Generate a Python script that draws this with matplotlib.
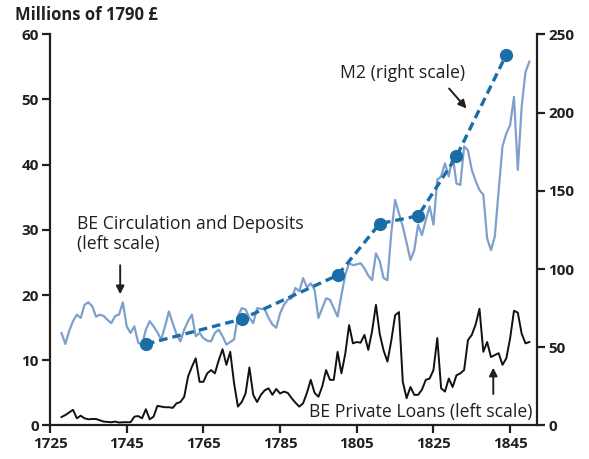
import matplotlib
matplotlib.use("Agg")
import matplotlib.pyplot as plt

plt.rcParams["font.family"] = ["Open Sans", "DejaVu Sans"]

# BE Circulation and Deposits, millions of 1790 pounds (left scale)
circ_years = list(range(1728, 1851))
circ_values = [
    14.2, 12.5, 14.5, 16.0, 17.0, 16.5, 18.5, 18.9, 18.3, 16.7,
    17.0, 16.8, 16.2, 15.7, 16.8, 17.0, 18.9, 15.2, 14.2, 15.2,
    12.7, 12.4, 14.7, 16.0, 15.2, 14.3, 13.2, 15.2, 17.5, 15.7,
    14.0, 12.9, 14.7, 16.0, 17.0, 13.7, 14.2, 13.4, 13.0, 12.9,
    14.2, 14.7, 13.7, 12.4, 12.8, 13.2, 16.7, 18.0, 17.8, 16.5,
    15.7, 18.0, 17.9, 17.8, 16.5, 15.5, 15.0, 17.2, 18.5, 19.3,
    19.5, 21.1, 20.6, 22.6, 21.2, 21.8, 20.8, 16.5, 18.0, 19.5,
    19.3, 18.0, 16.7, 20.0, 23.1, 24.9, 24.6, 24.7, 24.9, 24.1,
    23.0, 22.3, 26.4, 25.2, 22.6, 22.3, 29.5, 34.6, 32.5, 30.5,
    28.0, 25.4, 26.9, 30.8, 29.2, 31.5, 33.6, 30.8, 37.7, 38.2,
    40.2, 38.2, 41.5, 37.1, 36.9, 42.8, 42.2, 39.2, 37.5, 36.1,
    35.4, 28.7, 26.9, 29.0, 36.0, 42.8, 44.8, 46.1, 50.4, 39.2,
    48.9, 54.2, 55.8,
]

# BE Private Loans, millions of 1790 pounds (left scale)
loan_years = list(range(1728, 1851))
loan_values = [
    1.3, 1.6, 2.0, 2.4, 1.1, 1.5, 1.1, 0.95, 1.0, 1.0,
    0.8, 0.6, 0.55, 0.5, 0.6, 0.45, 0.5, 0.5, 0.5, 1.35,
    1.45, 1.1, 2.5, 0.95, 1.35, 3.0, 2.9, 2.8, 2.8, 2.7,
    3.4, 3.6, 4.4, 7.5, 9.0, 10.3, 6.7, 6.7, 8.0, 8.5,
    8.0, 10.0, 11.7, 9.3, 11.3, 6.5, 2.9, 3.6, 4.9, 8.9,
    4.7, 3.6, 4.7, 5.4, 5.7, 4.7, 5.6, 4.9, 5.2, 5.0,
    4.2, 3.5, 2.9, 3.4, 5.0, 7.0, 5.0, 4.4, 6.0, 8.5,
    7.0, 7.0, 11.3, 8.0, 11.0, 15.4, 12.6, 12.8, 12.7, 13.9,
    11.6, 14.5, 18.5, 14.0, 11.5, 9.8, 13.0, 16.9, 17.4, 6.7,
    4.2, 5.9, 4.7, 4.7, 5.5, 7.0, 7.2, 8.5, 13.4, 5.7,
    5.2, 7.2, 5.9, 7.7, 8.0, 8.5, 13.1, 13.9, 15.5, 17.9,
    11.3, 12.8, 10.5, 10.8, 11.1, 9.3, 10.3, 13.4, 17.6, 17.3,
    14.1, 12.6, 12.8,
]

# M2, millions of 1790 pounds (right scale)
m2_years = [1750, 1775, 1800, 1811, 1821, 1831, 1844]
m2_values = [52, 68, 96, 129, 134, 172, 237]

x_ticks = [1725, 1745, 1765, 1785, 1805, 1825, 1845]
left_ticks = [0, 10, 20, 30, 40, 50, 60]
right_ticks = [0, 50, 100, 150, 200, 250]

TXT = "#231f20"
LIGHT = "#7f9fcc"
DARK = "#1a6da6"

fig = plt.figure(figsize=(5.89, 4.59), dpi=100)
ax = fig.add_axes([0.0849, 0.073, 0.8268, 0.8523])
ax2 = ax.twinx()

ax.plot(circ_years, circ_values, color=LIGHT, linewidth=1.6, zorder=2)
ax.plot(loan_years, loan_values, color="#111111", linewidth=1.4, zorder=3)
ax2.plot(m2_years, m2_values, color=DARK, linewidth=2.4, dashes=(2.6, 1.5),
         marker="o", markersize=8.5, zorder=4)

ax.set_xlim(1725, 1852)
ax.set_ylim(0, 60)
ax2.set_ylim(0, 250)
ax.set_xticks(x_ticks)
ax.set_yticks(left_ticks)
ax2.set_yticks(right_ticks)

for a in (ax, ax2):
    a.spines["top"].set_visible(False)
    for s in ("left", "right", "bottom"):
        a.spines[s].set_linewidth(1.6)
        a.spines[s].set_color(TXT)
    a.tick_params(length=6, width=1.6, color=TXT, labelsize=11,
                  labelcolor=TXT, pad=2)
    for lab in a.get_xticklabels() + a.get_yticklabels():
        lab.set_fontweight("bold")
ax.spines["right"].set_visible(False)
ax2.spines["left"].set_visible(False)
ax2.spines["bottom"].set_visible(False)

fig.text(0.025, 0.968, "Millions of 1790 £", fontsize=12, fontweight="bold",
         color=TXT, ha="left", va="center")

ax.text(1732, 29.4, "BE Circulation and Deposits\n(left scale)", fontsize=12.7,
        color=TXT, ha="left", va="center", linespacing=1.15)
ax.annotate("", xy=(1743.3, 19.7), xytext=(1743.3, 25.0),
            arrowprops=dict(arrowstyle="-|>", color=TXT, lw=1.4,
                            mutation_scale=12))

ax.text(1833.3, 54.1, "M2 (right scale)", fontsize=12.7, color=TXT,
        ha="right", va="center")
ax.annotate("", xy=(1834.1, 48.3), xytext=(1828.6, 52.0),
            arrowprops=dict(arrowstyle="-|>", color=TXT, lw=1.4,
                            mutation_scale=12))

ax.text(1850.7, 2.1, "BE Private Loans (left scale)", fontsize=12.7, color=TXT,
        ha="right", va="center")
ax.annotate("", xy=(1840.6, 9.3), xytext=(1840.6, 4.4),
            arrowprops=dict(arrowstyle="-|>", color=TXT, lw=1.4,
                            mutation_scale=12))

fig.savefig("out.png", dpi=100)
